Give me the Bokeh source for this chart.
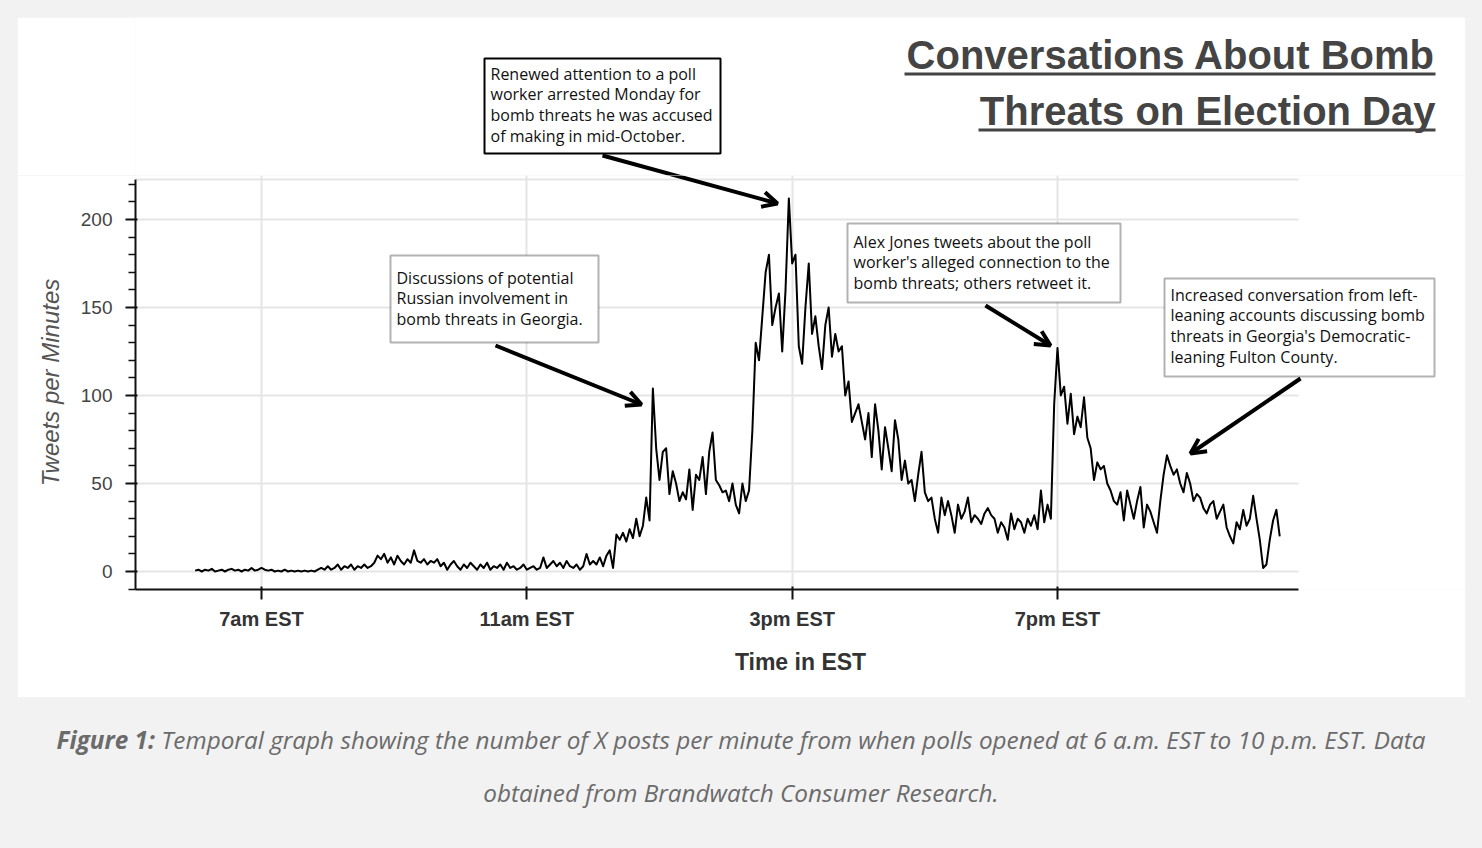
import numpy as np

from bokeh.plotting import figure
from bokeh.models import FixedTicker, Label, BoxAnnotation, Arrow, OpenHead, Div, Range1d
from bokeh.core.properties import value
from bokeh.layouts import column
from bokeh.embed import file_html
from bokeh.resources import INLINE

# tweets per minute, read every 3 minutes, one list per hour starting 6am EST
posts_6am = [0.5, 1, 0, 1, 0.5, 1.5, 0, 0.5, 1, 0, 1, 1.5, 0.5, 1, 0, 1, 0.5, 2, 0.5, 1]
posts_7am = [2, 1, 0.5, 1, 0, 0.5, 0, 1, 0, 0.5, 0, 0.5, 0, 0.5, 0, 0.5, 0, 1, 2, 1]
posts_8am = [3, 1, 2, 4, 1, 3, 2, 4, 1, 3, 2, 4, 2, 3, 5, 9, 7, 10, 5, 8]
posts_9am = [4, 9, 6, 4, 7, 5, 12, 6, 5, 7, 4, 6, 5, 7, 3, 5, 1, 4, 6, 3]
posts_10am = [1, 4, 2, 5, 3, 1, 4, 2, 5, 1, 3, 2, 4, 1, 5, 2, 3, 1, 2, 4]
posts_11am = [1, 2, 3, 1, 2, 8, 2, 4, 6, 3, 5, 2, 6, 3, 2, 4, 1, 3, 10, 4]
posts_12pm = [6, 4, 8, 3, 9, 12, 2, 21, 18, 22, 17, 24, 19, 30, 20, 26, 42, 29, 104, 70]
posts_1pm = [52, 68, 70, 44, 57, 50, 40, 45, 41, 58, 35, 55, 52, 65, 44, 68, 79, 52, 49, 45]
posts_2pm = [46, 40, 50, 38, 33, 50, 40, 46, 80, 130, 120, 145, 170, 180, 140, 150, 158, 125, 160, 212]
posts_3pm = [175, 180, 128, 118, 150, 175, 135, 145, 128, 115, 140, 150, 122, 135, 125, 128, 100, 108, 85, 90]
posts_4pm = [95, 85, 75, 90, 65, 95, 80, 58, 82, 70, 57, 86, 75, 52, 63, 50, 52, 40, 55, 68]
posts_5pm = [45, 40, 42, 30, 22, 42, 32, 40, 32, 22, 38, 30, 34, 42, 28, 32, 30, 27, 33, 36]
posts_6pm = [32, 30, 22, 28, 25, 18, 33, 24, 30, 28, 22, 30, 26, 32, 24, 46, 28, 38, 30, 95]
posts_7pm = [127, 100, 105, 84, 101, 78, 88, 82, 99, 76, 70, 52, 62, 58, 60, 50, 46, 40, 38, 45]
posts_8pm = [29, 46, 38, 30, 40, 48, 25, 38, 34, 28, 22, 40, 55, 66, 60, 55, 58, 50, 45, 56]
posts_9pm = [50, 40, 44, 42, 36, 33, 38, 40, 30, 34, 38, 25, 20, 16, 28, 24, 35, 26, 30, 43]
posts_10pm = [30, 18, 2, 4, 18, 29, 35, 20]

tick_hours = [7, 11, 15, 19]
tick_labels = ["7am EST", "11am EST", "3pm EST", "7pm EST"]
y_ticks = [0, 50, 100, 150, 200]
y_minor = [-10, 10, 20, 30, 40, 60, 70, 80, 90, 110, 120, 130, 140, 160, 170, 180, 190, 210, 220]

title_lines = ["Conversations About Bomb", "Threats on Election Day"]
notes = [
    ["Renewed attention to a poll", "worker arrested Monday for",
     "bomb threats he was accused", "of making in mid-October."],
    ["Discussions of potential", "Russian involvement in", "bomb threats in Georgia."],
    ["Alex Jones tweets about the poll", "worker's alleged connection to the",
     "bomb threats; others retweet it."],
    ["Increased conversation from left-", "leaning accounts discussing bomb",
     "threats in Georgia's Democratic-", "leaning Fulton County."],
]
caption_bold = "Figure 1:"
caption_text = ("Temporal graph showing the number of X posts per minute from when polls "
                "opened at 6 a.m. EST to 10 p.m. EST. Data<br>obtained from Brandwatch Consumer Research.")

hourly = [posts_6am, posts_7am, posts_8am, posts_9am, posts_10am, posts_11am, posts_12pm,
          posts_1pm, posts_2pm, posts_3pm, posts_4pm, posts_5pm, posts_6pm, posts_7pm,
          posts_8pm, posts_9pm, posts_10pm]
tweets = sum(hourly, [])
hours = 6 + np.arange(len(tweets)) * 3 / 60

BG = "#f2f2f2"
NOTE_FONT = "Open Sans"
SPLIT = 175          # page y where the header strip ends and the chart starts

# page pixels of the chart area
FL, FR, FT, FB = 135, 1298, 179, 589
px_hour = (1057 - 261) / 12
px_unit = (571 - 219) / 200
X0 = 7 - (261 - FL) / px_hour
Y0 = -(FB - 571) / px_unit


def hx(px):
    return X0 + (px - FL) / px_hour


def vy(py):
    return Y0 + (FB - py) / px_unit


# ---- header strip: title and the first note box (page pixel coordinates)
top = figure(width=1448, height=SPLIT - 17, x_range=(FL, 1465), y_range=Range1d(SPLIT, 17),
             x_axis_type=None, y_axis_type=None, output_backend="svg",
             toolbar_location=None, tools="", min_border=0, min_border_left=FL - 17)
top.margin = (17, 17, 0, 17)
top.grid.visible = False
top.outline_line_color = None
top.border_fill_color = "white"

top.text(x=[1435, 1435], y=[54, 110], text=title_lines, text_align="right",
         text_baseline="alphabetic", text_font=value("Liberation Sans"),
         text_font_style="bold", text_font_size="40px", text_color="#444444")
top.quad(left=[904, 978], right=[1435, 1435], top=[72, 128], bottom=[75, 131],
         fill_color="#444444", line_color=None)

top.quad(left=484, right=720, top=58, bottom=153, fill_color="white",
         line_color="black", line_width=2)
top.text(x=[490] * 4, y=[73 + i * 20.7 for i in range(4)], text=notes[0],
         text_align="left", text_baseline="alphabetic", text_font=value(NOTE_FONT),
         text_font_size="16px", text_color="#111111")

# the first arrow crosses from the header strip into the chart; each half runs past the seam
a_start, a_end = (602, 155), (777, 203)
slope = (a_end[0] - a_start[0]) / (a_end[1] - a_start[1])


def x_at(py):
    return a_start[0] + (py - a_start[1]) * slope


top.add_layout(Arrow(end=None, x_start=a_start[0], y_start=a_start[1], x_end=x_at(SPLIT + 10),
                     y_end=SPLIT + 10, line_width=4, line_color="black"))

# ---- main chart
p = figure(width=1448, height=697 - SPLIT, x_range=(X0, hx(1465)), y_range=(Y0, vy(SPLIT)),
           output_backend="svg", toolbar_location=None, tools="",
           min_border_left=FL - 17, min_border_right=0, min_border_top=0,
           min_border_bottom=697 - FB)
p.margin = (0, 17, 0, 17)
p.border_fill_color = "white"
p.background_fill_color = "white"
p.outline_line_color = None

# horizontal grid lines stop at the end of the time axis
p.ygrid.visible = False
p.segment(x0=hx(FL), x1=hx(FR), y0=y_ticks + [vy(FT)], y1=y_ticks + [vy(FT)],
          line_color="#e5e5e5", line_width=2, level="underlay")
p.xgrid.grid_line_color = "#e5e5e5"
p.xgrid.grid_line_width = 2

p.line(hours, tweets, line_color="black", line_width=2, line_join="round")

p.xaxis.bounds = (X0, hx(FR))
p.xaxis.ticker = FixedTicker(ticks=tick_hours)
p.xaxis.major_label_overrides = dict(zip(tick_hours, tick_labels))
p.xaxis.major_label_text_font = "Liberation Sans"
p.xaxis.major_label_text_font_style = "bold"
p.xaxis.major_label_text_font_size = "20px"
p.xaxis.major_label_text_color = "#333333"
p.xaxis.major_label_standoff = 8
p.xaxis.major_tick_out = 10
p.xaxis.major_tick_in = 3
p.xaxis.minor_tick_line_color = None
p.xaxis.axis_label = "Time in EST"
p.xaxis.axis_label_text_font = "Liberation Sans"
p.xaxis.axis_label_text_font_style = "bold"
p.xaxis.axis_label_text_font_size = "23px"
p.xaxis.axis_label_text_color = "#333333"
p.xaxis.axis_label_standoff = 16

p.yaxis.bounds = (Y0, vy(FT))
p.yaxis.ticker = FixedTicker(ticks=y_ticks, minor_ticks=y_minor)
p.yaxis.major_label_text_font = "Liberation Sans"
p.yaxis.major_label_text_font_size = "19px"
p.yaxis.major_label_text_color = "#444444"
p.yaxis.major_label_standoff = 13
p.yaxis.major_tick_out = 10
p.yaxis.major_tick_in = 2
p.yaxis.minor_tick_out = 7
p.yaxis.minor_tick_in = 0
p.yaxis.minor_tick_line_color = "#111111"
p.yaxis.minor_tick_line_width = 1.5
p.yaxis.axis_label = "Tweets per Minutes"
p.yaxis.axis_label_text_font = "Liberation Sans"
p.yaxis.axis_label_text_font_style = "italic"
p.yaxis.axis_label_text_font_size = "24px"
p.yaxis.axis_label_text_color = "#555555"
p.yaxis.axis_label_standoff = 14

for ax in [p.xaxis, p.yaxis]:
    ax.axis_line_width = 2
    ax.axis_line_color = "#111111"
    ax.major_tick_line_width = 2
    ax.major_tick_line_color = "#111111"

# note boxes: left, right, top, bottom, first text line (page pixels)
boxes = [(390, 598, 255, 342, 278), (847, 1120, 223, 302, 242), (1164, 1434, 278, 376, 295)]
for (l, r, t, b, y1), lines in zip(boxes, notes[1:]):
    p.add_layout(BoxAnnotation(left=hx(l), right=hx(r), top=vy(t), bottom=vy(b),
                               fill_color="white", fill_alpha=1, line_color="black", line_width=2))
    for i, line in enumerate(lines):
        p.add_layout(Label(x=hx(l + 6), y=vy(y1 - 1 + i * 20.7), text=line, text_align="left",
                           text_baseline="alphabetic", text_font=NOTE_FONT,
                           text_font_size="16px", text_color="#111111"))

arrows = [(x_at(SPLIT - 10), SPLIT - 10, a_end[0], a_end[1]), (495, 345, 641, 404),
          (985, 305, 1050, 345), (1300, 378, 1190, 453)]
for x_s, y_s, x_e, y_e in arrows:
    p.add_layout(Arrow(end=OpenHead(size=15, line_width=4, line_color="black"),
                       x_start=hx(x_s), y_start=vy(y_s), x_end=hx(x_e), y_end=vy(y_e),
                       line_width=4, line_color="black"))

caption = Div(
    text=('<div style="font-family:\'Open Sans\';font-style:italic;font-size:24.3px;color:#6b6b6b;'
          'line-height:53px;text-align:center;width:1482px;padding-top:16px;">'
          '<b>' + caption_bold + '</b> ' + caption_text + '</div>'),
    width=1482, height=151, margin=(0, 0, 0, 0), styles={"background-color": BG})

layout = column(top, p, caption, spacing=0, styles={"background-color": BG})

open("out.html", "w").write(file_html(layout, INLINE))
